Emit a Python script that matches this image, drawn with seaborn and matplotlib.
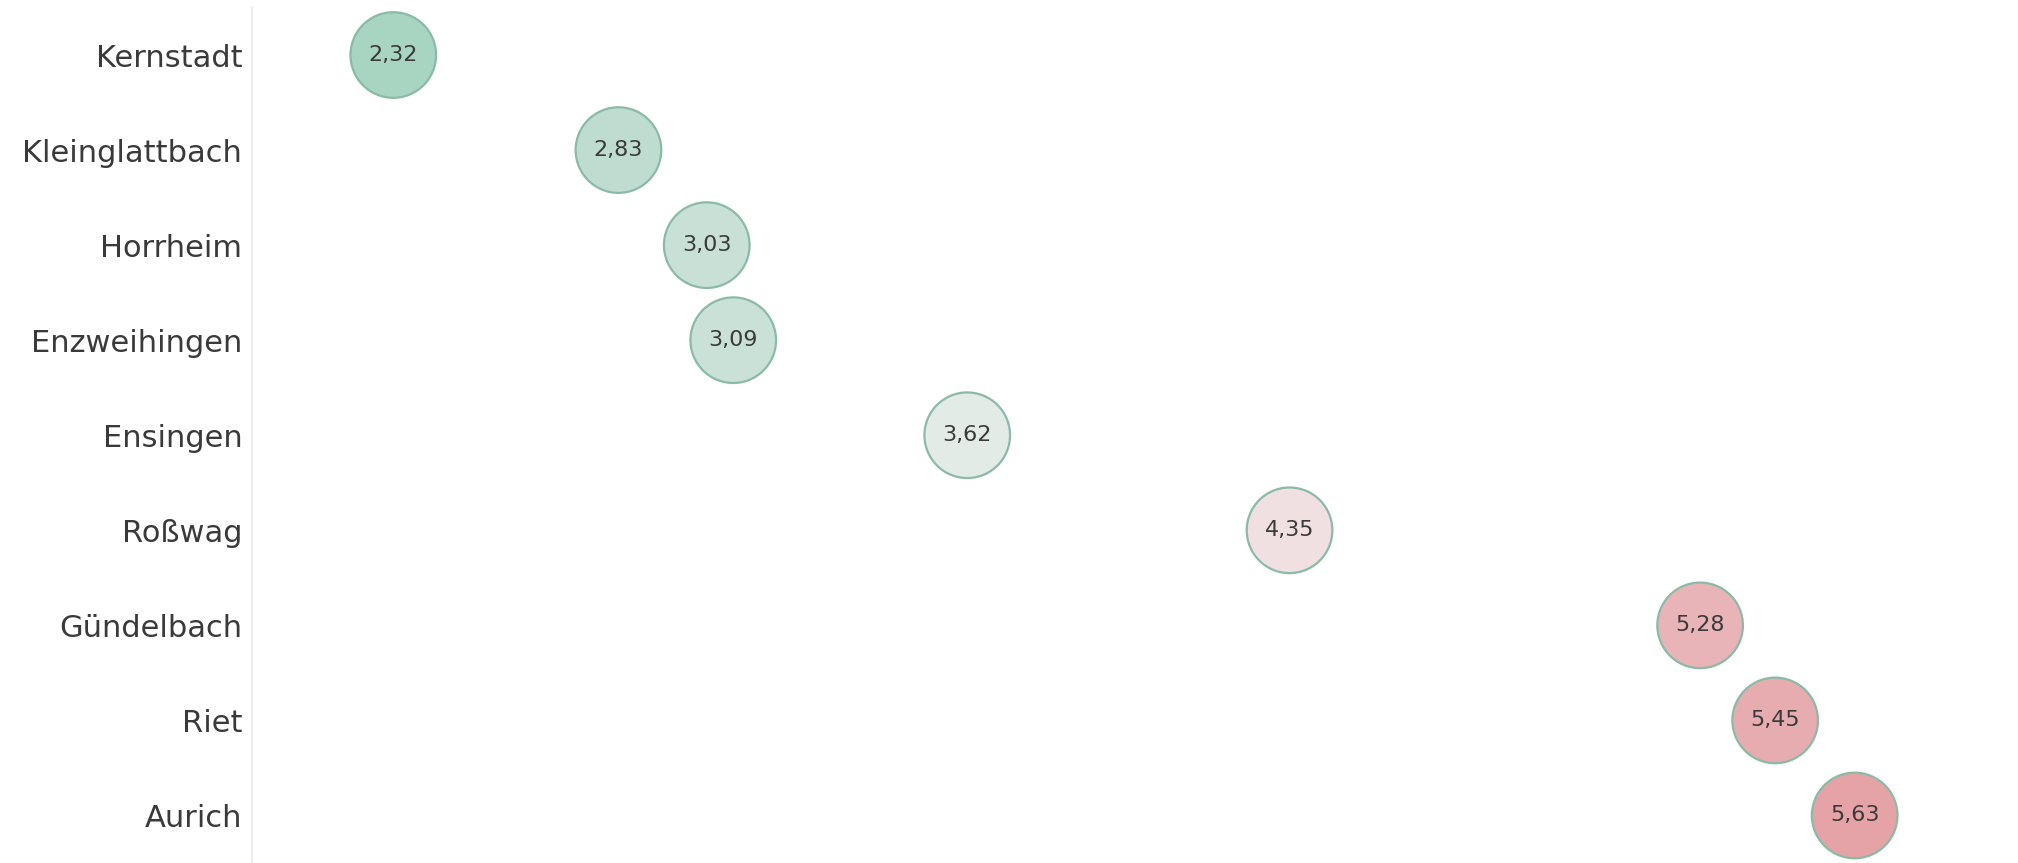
import matplotlib
matplotlib.use("Agg")
import matplotlib.pyplot as plt
import pandas as pd
import seaborn as sns
from matplotlib.colors import LinearSegmentedColormap, TwoSlopeNorm

districts = [
    "Kernstadt", "Kleinglattbach", "Horrheim", "Enzweihingen", "Ensingen",
    "Roßwag", "Gündelbach", "Riet", "Aurich",
]
values = [2.32, 2.83, 3.03, 3.09, 3.62, 4.35, 5.28, 5.45, 5.63]

df = pd.DataFrame({"district": districts, "value": values})

sns.set_theme(style="white")
plt.rcParams["font.family"] = ["DejaVu Sans"]

cmap = LinearSegmentedColormap.from_list("grn_red", ["#a8d4c2", "#f3f1f1", "#e6a3a7"])
norm = TwoSlopeNorm(vmin=2.32, vcenter=4.0, vmax=5.63)

fig = plt.figure(figsize=(20.18, 8.63), dpi=100)
ax = fig.add_axes([252 / 2018, 0.0, 1 - 252 / 2018, 1 - 7.5 / 863])

sns.scatterplot(
    data=df, x="value", y="district", hue="value", palette=cmap, hue_norm=norm,
    s=3800, edgecolor="#8bbba6", linewidth=1.6, legend=False, ax=ax, zorder=3,
)

for d, v in zip(districts, values):
    ax.text(v, d, f"{v:.2f}".replace(".", ","), ha="center", va="center",
            fontsize=16, color="#3a3a3a", zorder=4)

ax.set_xlim(2, 6)
ax.set_ylim(len(districts) - 0.5, -0.5)
ax.set_xlabel("")
ax.set_ylabel("")
ax.set_xticks([])
ax.tick_params(axis="y", length=0, pad=7, labelsize=22, labelcolor="#3a3a3a")
for side in ["top", "right", "bottom"]:
    ax.spines[side].set_visible(False)
ax.spines["left"].set_color("#eeeeee")
ax.spines["left"].set_linewidth(1.5)

fig.savefig("out.png", dpi=100)
